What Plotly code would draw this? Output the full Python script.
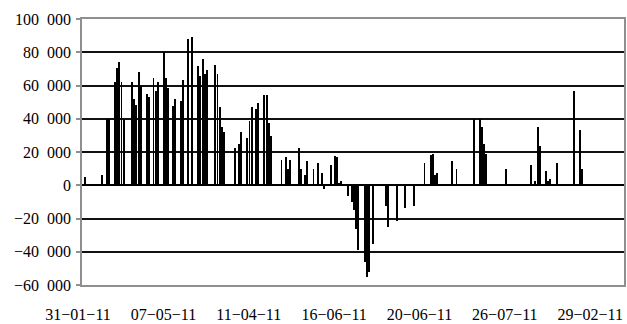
import plotly.graph_objects as go

N_CATEGORIES = 254

# bar positions (category index) and values
bar_index = [1, 9, 11, 12, 15, 16, 17, 18, 19, 23, 24, 25, 26, 27, 30, 31, 33, 34, 35,
             38, 39, 40, 42, 43, 46, 47, 49, 51, 54, 55, 56, 57, 58, 62, 63, 64, 65, 66,
             71, 73, 74, 77, 78, 79, 81, 82, 85, 86, 87, 88, 93, 95, 96, 97, 101, 102,
             104, 105, 108, 110, 112, 113, 116, 118, 119, 120, 121, 124, 126, 127, 128,
             129, 132, 133, 134, 136, 142, 143, 147, 151, 155, 160, 163, 164, 165, 166,
             173, 175, 183, 186, 187, 188, 189, 198, 210, 212, 213, 214, 217, 218, 219,
             222, 230, 233, 234]
bar_value = [5000, 6400, 40000, 40000, 62300, 70500, 73900, 62000, 40000, 62000, 52000,
             48500, 68000, 60000, 55000, 53000, 64500, 56700, 62000, 80000, 64500, 58700,
             47500, 52000, 50900, 63500, 88100, 89100, 71500, 65900, 76100, 67100, 69300,
             72500, 67100, 47300, 35300, 31800, 22600, 24900, 31800, 28500, 38900, 47300,
             46100, 49500, 54000, 54000, 37500, 29400, 15400, 16800, 9800, 15400, 22600,
             9800, 6400, 14400, 9800, 13400, 7400, -2000, 12000, 17800, 16800, 1600, 2800,
             -6600, -10000, -14600, -26200, -39000, -46200, -55300, -52200, -35200,
             -12200, -25200, -21600, -13600, -12200, 13400, 18000, 19000, 6400, 7400,
             14400, 9800, 40000, 40000, 35300, 24900, 19000, 9800, 12400, 2800, 35300,
             23800, 8800, 2400, 3800, 13400, 56500, 33000, 9800]

x_tick_index = [0, 40, 80, 120, 160, 200, 240]
x_tick_labels = ["31−01−11", "07−05−11", "11−04−11", "16−06−11",
                 "20−06−11", "26−07−11", "29−02−11"]

y_tick_values = [100000, 80000, 60000, 40000, 20000, 0, -20000, -40000, -60000]
y_tick_labels = ["100\u00a0\u00a0000", "80\u00a0\u00a0000", "60\u00a0\u00a0000",
                 "40\u00a0\u00a0000", "20\u00a0\u00a0000", "0",
                 "−20\u00a0\u00a0000", "−40\u00a0\u00a0000", "−60\u00a0\u00a0000"]

fig = go.Figure(go.Bar(
    x=bar_index, y=bar_value, width=0.45,
    marker=dict(color="#000000", line=dict(width=0)),
))

frame = "#8f8f8f"
serif = "Times New Roman, Liberation Serif, serif"
fig.update_layout(
    width=627, height=324,
    margin=dict(l=82, r=3, t=19, b=39, autoexpand=False),
    paper_bgcolor="white", plot_bgcolor="white",
    showlegend=False, bargap=0,
    font=dict(family=serif, size=16, color="black"),
    xaxis=dict(
        range=[-0.5, N_CATEGORIES - 0.5],
        tickmode="array", tickvals=x_tick_index, ticktext=x_tick_labels,
        ticks="", showgrid=False, zeroline=False,
        showline=True, linecolor=frame, linewidth=1.5, mirror=True,
        ticklabelshift=-5, ticklabelstandoff=14,
        tickfont=dict(family=serif, size=16, color="black"),
    ),
    yaxis=dict(
        range=[-60000, 100000],
        tickmode="array", tickvals=y_tick_values, ticktext=y_tick_labels,
        ticks="outside", ticklen=4, tickcolor=frame, tickwidth=1.5,
        showgrid=True, gridcolor="#111111", gridwidth=1.8,
        zeroline=True, zerolinecolor="#000000", zerolinewidth=1.8,
        showline=True, linecolor=frame, linewidth=1.5, mirror=True,
        ticklabelstandoff=2,
        tickfont=dict(family=serif, size=16, color="black"),
    ),
)

fig.write_html("out.html", config={"displayModeBar": False},
               post_script="document.body.style.margin='0';")
